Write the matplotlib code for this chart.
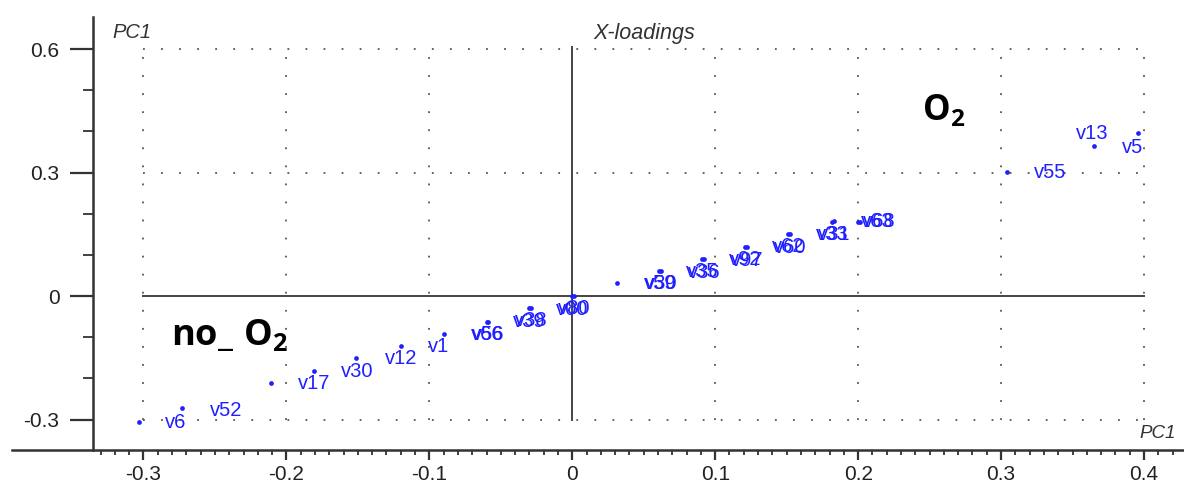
import numpy as np
import matplotlib.pyplot as plt
from matplotlib.ticker import FixedLocator

# loadings
pc_x = [-0.303, -0.273, -0.211, -0.181, -0.151, -0.120, -0.090,
        -0.059, -0.060, -0.029, -0.030, 0.0, 0.001, 0.031,
        0.062, 0.061, 0.092, 0.091, 0.122, 0.121, 0.152, 0.151,
        0.183, 0.182, 0.201, 0.200, 0.304, 0.365, 0.396]
pc_y = [-0.306, -0.272, -0.211, -0.182, -0.151, -0.121, -0.092,
        -0.063, -0.062, -0.029, -0.030, 0.0, 0.001, 0.031,
        0.061, 0.062, 0.090, 0.091, 0.119, 0.120, 0.150, 0.151,
        0.182, 0.181, 0.180, 0.181, 0.301, 0.364, 0.396]
names = ["v52", "v6", "", "v17", "v30", "v12", "v1",
         "v56", "v66", "v38", "v39", "v00", "v80", "",
         "v30", "v59", "v36", "v35", "v97", "v92", "v60", "v62",
         "v31", "v33", "v68", "v63", "v55", "v13", "v5"]

xticks = [-0.3, -0.2, -0.1, 0, 0.1, 0.2, 0.3, 0.4]
xticklabels = ["-0.3", "-0.2", "-0.1", "0", "0.1", "0.2", "0.3", "0.4"]
yticks = [-0.3, 0, 0.3, 0.6]
yticklabels = ["-0.3", "0", "0.3", "0.6"]

# label offsets in pixels (default is below-left of the dot)
default_off = (-16, -13)
special_off = {"v52": (71, 12), "v6": (-17, -14), "v68": (3, 0), "v63": (3, 0),
               "v55": (27, 0), "v13": (-18, 13), "v5": (-16, -14)}

plt.rcParams['font.family'] = ['Liberation Sans', 'DejaVu Sans']
plt.rcParams['mathtext.fontset'] = 'custom'
plt.rcParams['mathtext.bf'] = 'Open Sans:bold'
plt.rcParams['mathtext.rm'] = 'Open Sans'

fig = plt.figure(figsize=(11.84, 4.82), dpi=100)
ax = fig.add_axes([12 / 1184, 32 / 482, 1 - 12 / 1184, (450 - 17) / 482])

ax.set_xlim(-0.392, 0.428)
ax.set_ylim(-0.374, 0.678)

dark = '#333333'
# dotted grid inside the data range
grid_x = [-0.3, -0.2, -0.1, 0.1, 0.2, 0.3, 0.4]
grid_y = [-0.3, 0.3, 0.6]
ax.vlines(grid_x, -0.3, 0.6, colors='#555555', linestyles=(0, (1, 9)), linewidth=1.3)
ax.hlines(grid_y, -0.3, 0.4, colors='#555555', linestyles=(0, (1, 9)), linewidth=1.3)
# zero cross
ax.plot([0, 0], [-0.3, 0.605], color='#444444', lw=1.4)
ax.plot([-0.3, 0.4], [0, 0], color='#444444', lw=1.4)

blue = '#1f1fff'
ax.plot(pc_x, pc_y, 'o', color=blue, ms=3.4, mec='none', zorder=3)
for x, y, n in zip(pc_x, pc_y, names):
    if not n:
        continue
    dx, dy = special_off.get(n, default_off)
    ax.annotate(n, (x, y), xytext=(dx, dy), textcoords='offset pixels',
                ha='left', va='center', color=blue, fontsize=14.5)

ax.text(0.245, 0.427, r'$\mathbf{O_2}$', fontsize=25, color='black',
        ha='left', va='baseline')
ax.text(-0.281, -0.119, r'$\mathbf{no\_\ O_2}$', fontsize=26, color='black',
        ha='left', va='baseline')

ax.text(-0.322, 0.641, 'PC1', style='italic', fontsize=14.5, color=dark,
        ha='left', va='center')
ax.text(0.015, 0.639, 'X-loadings', style='italic', fontsize=15.5, color=dark,
        ha='left', va='center')
ax.text(0.397, -0.335, 'PC1', style='italic', fontsize=13.5, color=dark,
        ha='left', va='center')

# spines
for s in ['top', 'right']:
    ax.spines[s].set_visible(False)
ax.spines['left'].set_position(('data', -0.335))
ax.spines['left'].set_bounds(-0.374, 0.678)
for s in ['left', 'bottom']:
    ax.spines[s].set_color(dark)
    ax.spines[s].set_linewidth(1.8)

ax.xaxis.set_major_locator(FixedLocator(xticks))
ax.set_xticklabels(xticklabels)
ax.xaxis.set_minor_locator(FixedLocator(np.round(np.arange(-0.33, 0.425, 0.01), 2)))
ax.yaxis.set_major_locator(FixedLocator(yticks))
ax.set_yticklabels(yticklabels)
ax.yaxis.set_minor_locator(FixedLocator([-0.2, -0.1, 0.1, 0.2, 0.4, 0.5]))

ax.tick_params(axis='x', which='major', length=7, width=1.6, color=dark,
               labelsize=15, labelcolor='#222222', pad=4)
ax.tick_params(axis='x', which='minor', length=3.6, width=1.3, color=dark)
ax.tick_params(axis='y', which='major', length=16.5, width=1.6, color=dark,
               labelsize=15, labelcolor='#222222', pad=8)
ax.tick_params(axis='y', which='minor', length=7, width=1.3, color=dark)

fig.savefig('out.png', dpi=100)
